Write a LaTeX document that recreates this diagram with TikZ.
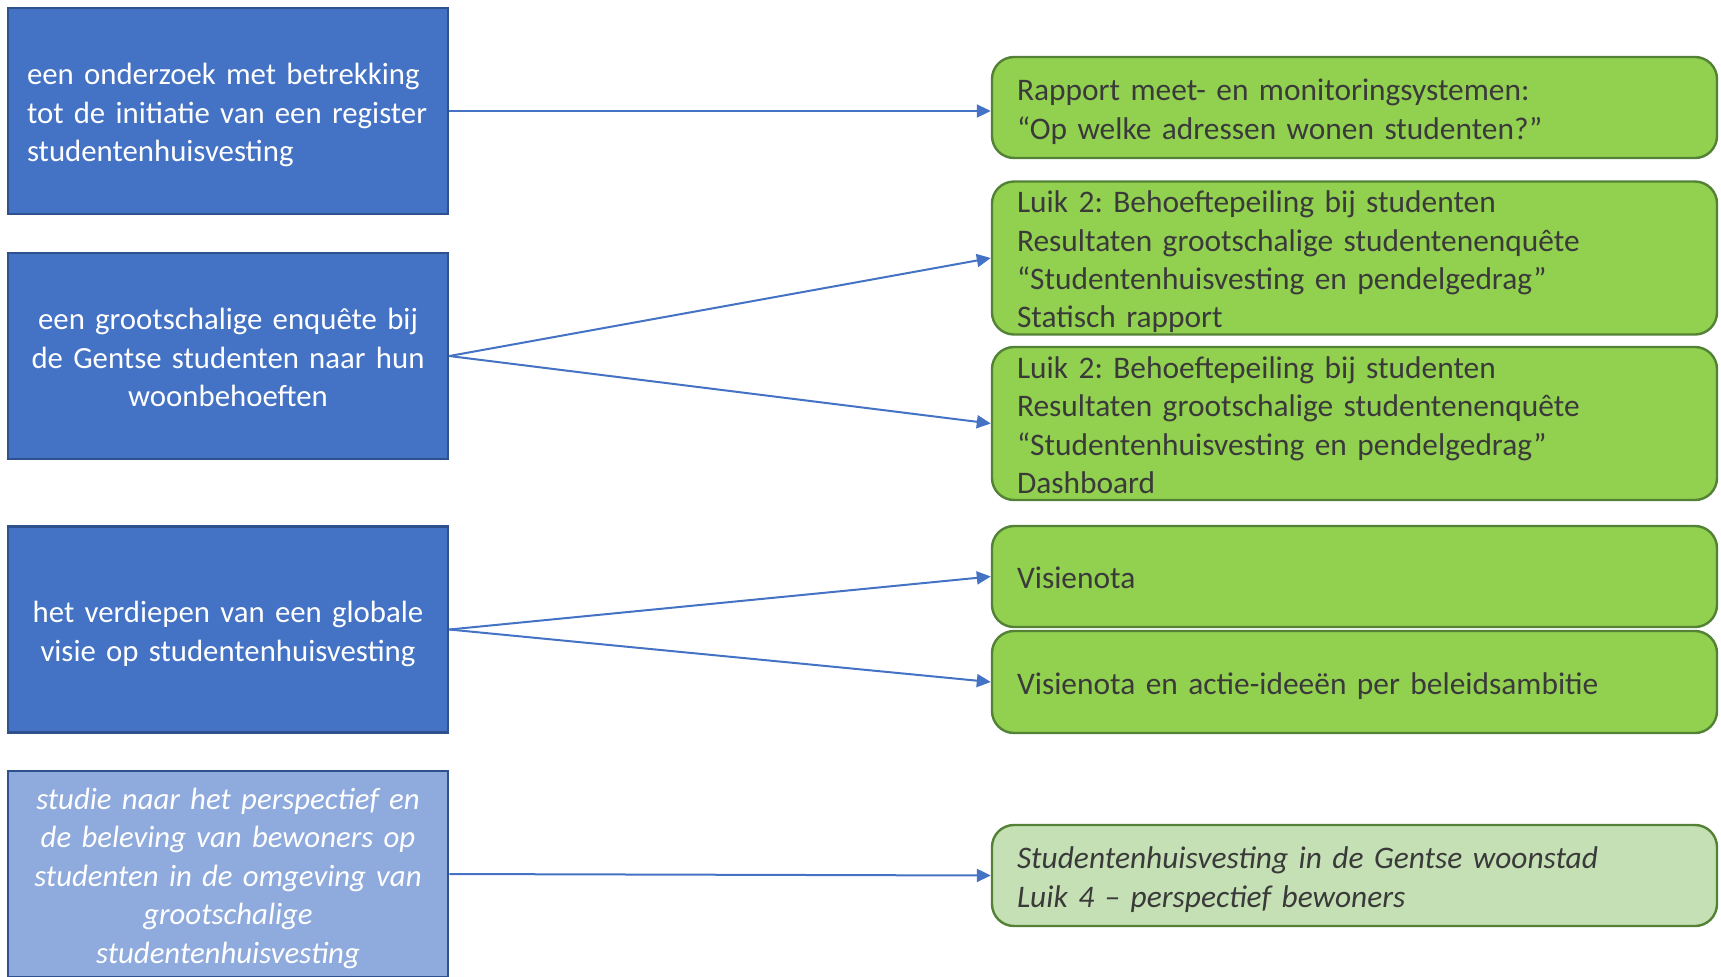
\documentclass[tikz,border=0pt]{standalone}
\usepackage{fontspec}
\setmainfont{Carlito}
\usetikzlibrary{arrows.meta}
\definecolor{bluefill}{HTML}{4472C4}
\definecolor{blueline}{HTML}{2F528F}
\definecolor{lightblue}{HTML}{8FAADC}
\definecolor{greenfill}{HTML}{92D050}
\definecolor{greenline}{HTML}{538135}
\definecolor{lightgreen}{HTML}{C5E0B4}
\definecolor{darktext}{HTML}{3A3A3A}
\newcommand{\tl}{\rule{0pt}{16.8pt}}
\newcommand{\bl}{\rule[-4.5pt]{0pt}{4.5pt}}
\newcommand{\tlq}{\rule{0pt}{15.2pt}}
\newcommand{\blq}{\rule[-2.9pt]{0pt}{2.9pt}}
\tikzset{
  leftbox/.style={draw=blueline, fill=bluefill, line width=1.3pt, minimum width=220pt, minimum height=103pt,
    inner xsep=9.5pt, inner ysep=0pt, text=white, text width=201pt,
    font=\fontsize{15.4}{19.2}\selectfont},
  rightbox/.style={draw=greenline, fill=greenfill, line width=1.2pt, rounded corners=11pt,
    minimum width=362.5pt, inner xsep=12.5pt, inner ysep=0pt, text=darktext, text width=337.5pt, align=left,
    font=\fontsize{15.7}{19.2}\selectfont},
  arr/.style={draw=bluefill, line width=1pt, -{Triangle[length=7pt,width=6.5pt]}}
}
\begin{document}
\frenchspacing
\begin{tikzpicture}[x=0.5pt,y=-0.5pt]
\useasboundingbox (0,0) rectangle (1721,976);
% left boxes
\node[leftbox, align=left] (b1) at (228,111) {\tl een onderzoek met betrekking\\tot de initiatie van een register\\studentenhuisvesting\bl};
\node[leftbox, align=center] (b2) at (228,356) {\tl een grootschalige enquête bij\\de Gentse studenten naar hun\\woonbehoeften\bl};
\node[leftbox, align=center] (b3) at (228,629.5) {\tl het verdiepen van een globale\\visie op studentenhuisvesting\bl};
\node[leftbox, align=center, fill=lightblue, font=\fontsize{15.4}{19.2}\selectfont\itshape] (b4) at (228,874) {\tl studie naar het perspectief en\\de beleving van bewoners op\\studenten in de omgeving van\\grootschalige\\studentenhuisvesting\bl};
% right boxes
\node[rightbox, minimum height=50.5pt] (r1) at (1354.5,107.5) {\tl Rapport meet- en monitoringsystemen:\\“Op welke adressen wonen studenten?”\bl};
\node[rightbox, minimum height=76.5pt] (r2) at (1354.5,258) {\tlq Luik 2: Behoeftepeiling bij studenten\\Resultaten grootschalige studentenenquête\\“Studentenhuisvesting en pendelgedrag”\\Statisch rapport\blq};
\node[rightbox, minimum height=76.5pt] (r3) at (1354.5,423.5) {\tlq Luik 2: Behoeftepeiling bij studenten\\Resultaten grootschalige studentenenquête\\“Studentenhuisvesting en pendelgedrag”\\Dashboard\blq};
\node[rightbox, minimum height=50.5pt] (r4) at (1354.5,576.5) {\tl Visienota\bl};
\node[rightbox, minimum height=51pt] (r5) at (1354.5,682) {\tl Visienota en actie-ideeën per beleidsambitie\bl};
\node[rightbox, minimum height=50.5pt, fill=lightgreen, font=\fontsize{15.7}{19.2}\selectfont\itshape] (r6) at (1354.5,875.5) {\tl Studentenhuisvesting in de Gentse woonstad\\Luik 4 – perspectief bewoners\bl};
% connectors
\draw[arr] (b1.east) -- (b1.east -| r1.west);
\draw[arr] (b2.east) -- (r2.west);
\draw[arr] (b2.east) -- (r3.west);
\draw[arr] (b3.east) -- (r4.west);
\draw[arr] (b3.east) -- (r5.west);
\draw[arr] (b4.east) -- (r6.west);
\end{tikzpicture}
\end{document}
